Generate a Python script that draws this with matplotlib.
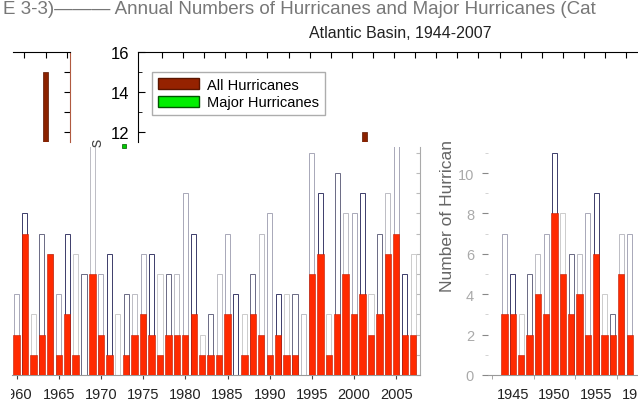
import matplotlib
matplotlib.use("Agg")
import matplotlib.pyplot as plt
import numpy as np
from matplotlib.patches import Patch, Rectangle

plt.rcParams['font.family'] = ['Liberation Sans', 'DejaVu Sans']

years = list(range(1944, 2008))
all_hurricanes = [7, 5, 3, 5, 6, 7, 11, 8, 6, 6, 8, 9, 4, 3, 7, 7,
                  4, 8, 3, 7, 6, 4, 7, 6, 5, 12, 5, 6, 3, 4, 4, 6, 6, 5, 5, 5,
                  9, 7, 2, 3, 5, 7, 4, 3, 5, 7, 8, 4, 4, 4, 3, 11, 9, 3, 10, 8,
                  8, 9, 4, 7, 9, 15, 5, 6]
major_hurricanes = [3, 3, 1, 2, 4, 3, 8, 5, 3, 4, 2, 6, 2, 2, 5, 2,
                    2, 7, 1, 2, 6, 1, 3, 1, 0, 5, 2, 1, 0, 1, 2, 3, 2, 1, 2, 2,
                    2, 3, 1, 1, 1, 3, 0, 1, 3, 2, 1, 2, 1, 1, 0, 5, 6, 1, 3, 5,
                    3, 4, 2, 3, 6, 7, 2, 2]
lower_ticks = [1960, 1965, 1970, 1975, 1980, 1985, 1990, 1995, 2000, 2005]
right_ticks = [1945, 1950, 1955, 1960]
title_text = "Atlantic Basin, 1944-2007"
header_text = "E 3-3)\u2014\u2014\u2014 Annual Numbers of Hurricanes and Major Hurricanes (Cat"
legend_labels = ["All Hurricanes", "Major Hurricanes"]
ylabel_text = "Number of Hurricanes"

W, H = 638, 406
fig = plt.figure(figsize=(W / 100, H / 100), dpi=100)


def px_axes(x0, y0, x1, y1, **kw):
    return fig.add_axes([x0 / W, 1 - y1 / H, (x1 - x0) / W, (y1 - y0) / H], **kw)


PXY = 8.44  # pixels per year
PXU = 20.2  # pixels per hurricane
RED = '#ff2a00'
DARKRED = '#8b2200'
hollow_cols = ['#a8a8b8', '#3c3c6a', '#cccccc', '#6a6a84', '#bcbcc4']

yrs = np.array(years)
allv = np.array(all_hurricanes)
majv = np.array(major_hurricanes)


def draw_lower(ax, mask):
    ys = yrs[mask]
    for i, (yr, a) in enumerate(zip(ys, allv[mask])):
        ax.bar(yr, a, width=0.6, fill=False, edgecolor=hollow_cols[i % len(hollow_cols)],
               linewidth=0.7, zorder=2)
    ax.bar(ys, majv[mask], width=0.75, color=RED, edgecolor='#c01800', linewidth=0.4, zorder=3)


# lower-left panel
top_lo = 148
ax1 = px_axes(12, top_lo, 420, 376)
ax1.set_xlim(1960 - 4.5 / PXY, 1960 + (420 - 16.5) / PXY)
ax1.set_ylim(0, (376 - top_lo) / PXU)
draw_lower(ax1, yrs >= 1960)
for s in ['left', 'top']:
    ax1.spines[s].set_visible(False)
ax1.spines['bottom'].set_color('#999999')
ax1.spines['right'].set_color('#aaaaaa')
ax1.set_xticks(lower_ticks)
ax1.set_xticklabels([str(t) for t in lower_ticks])
ax1.tick_params(axis='x', length=3, color='#444444', labelsize=10.5, labelcolor='#222222', pad=6)
ax1.yaxis.set_ticks_position('right')
ax1.set_yticks(range(0, 12))
ax1.set_yticklabels([])
ax1.tick_params(axis='y', direction='in', length=3, color='#bbbbbb')

# right panel
ax2 = px_axes(488, top_lo, 638, 376)
ax2.set_xlim(1944 - 16.5 / 8.4, 1944 + 150 / 8.4 - 16.5 / 8.4)
ax2.set_ylim(0, (376 - top_lo) / PXU)
draw_lower(ax2, yrs < 1960)
for s in ['left', 'top', 'right']:
    ax2.spines[s].set_visible(False)
ax2.spines['bottom'].set_color('#999999')
ax2.set_xticks(right_ticks)
ax2.set_xticklabels([str(t) for t in right_ticks])
ax2.tick_params(axis='x', length=0, labelsize=10.5, labelcolor='#222222', pad=9)
ax2.set_xticks([1942.5, 1947.5, 1952.5, 1957.5], minor=True)
ax2.tick_params(axis='x', which='minor', length=3, color='#999999')
ax2.set_yticks(range(0, 11, 2))
ax2.set_yticklabels([str(t) for t in range(0, 11, 2)])
ax2.set_yticks(range(1, 12, 2), minor=True)
ax2.tick_params(axis='y', length=4, color='#888888', labelsize=10.5,
                labelcolor='#aaaaaa', pad=6)
ax2.tick_params(axis='y', which='minor', length=2, color='#cccccc')
ax2.text(448 / W, 1 - 292 / H, ylabel_text, transform=fig.transFigure, rotation=90,
         ha='center', va='bottom', fontsize=12.5, color='#666666', clip_on=False)

# upper main panel (covers overflow)
ax3 = px_axes(138, 53, 645, 143)
ax3.set_zorder(5)
ax3.set_facecolor('white')
ax3.set_xlim(1969 - (364.5 - 138) / PXY, 1969 + (645 - 364.5) / PXY)
ax3.set_ylim(11.5, 16)
ax3.bar(yrs, allv, width=0.6, color=DARKRED, edgecolor='#5a1500', linewidth=0.5)
for s in ['bottom', 'right']:
    ax3.spines[s].set_visible(False)
ax3.xaxis.set_ticks_position('top')
ax3.set_xticks(np.arange(1945, 2002, 2.5))
ax3.tick_params(axis='x', direction='in', length=4, labeltop=False, labelbottom=False)
ax3.set_yticks([12, 14, 16])
ax3.set_yticks([13, 15], minor=True)
ax3.tick_params(axis='y', direction='in', length=5, labelsize=12, pad=6)
ax3.tick_params(axis='y', which='minor', direction='in', length=3)
handles = [Patch(facecolor='#952200', edgecolor='#5a1500'),
           Patch(facecolor='#00ee00', edgecolor='#005500')]
leg = ax3.legend(handles, legend_labels, loc='upper left', bbox_to_anchor=(14 / 507, 1 - 20 / 90),
                 fontsize=10.5, frameon=True, fancybox=False, edgecolor='#999999',
                 handlelength=2.8, handleheight=0.8, borderpad=0.4, labelspacing=0.25,
                 handletextpad=0.6, borderaxespad=0)

# upper-left fragment
ax4 = px_axes(13, 53, 70, 143)
ax4.set_xlim(2005 - 32.5 / PXY, 2005 + 24.5 / PXY)
ax4.set_ylim(11.5, 16)
ax4.bar(yrs, allv, width=0.6, color=DARKRED, edgecolor='#5a1500', linewidth=0.5)
for s in ['bottom', 'left']:
    ax4.spines[s].set_visible(False)
ax4.spines['right'].set_color('#b05a40')
ax4.xaxis.set_ticks_position('top')
ax4.yaxis.set_ticks_position('right')
ax4.set_xticks([2002.5, 2005, 2007.5])
ax4.tick_params(axis='x', direction='in', length=4, labeltop=False, labelbottom=False)
ax4.set_yticks([12, 13, 14, 15])
ax4.tick_params(axis='y', direction='in', length=4, labelright=False, labelleft=False)

# fragments and titles
fig.text(97 / W, 1 - 143 / H, 's', rotation=90, ha='center', va='center', fontsize=12, color='#444444')
fig.patches.append(Rectangle((122 / W, 1 - 149 / H), 4 / W, 4 / H, transform=fig.transFigure,
                             facecolor='#00cc00', edgecolor='#005500', linewidth=0.5, figure=fig))
# crop at left edge of the lower-left panel (cuts the "1" of 1960)
fig.patches.append(Rectangle((0, 0), 11 / W, 1 - 378 / H, transform=fig.transFigure,
                             facecolor='white', edgecolor='none', zorder=10, figure=fig))
fig.text(400 / W, 1 - 33 / H, title_text, ha='center', va='center', fontsize=11.5, color='#222222')
fig.text(3 / W, 1 - 10 / H, header_text, ha='left', va='center', fontsize=13.5, color='#777777')

fig.savefig('out.png', dpi=100)
